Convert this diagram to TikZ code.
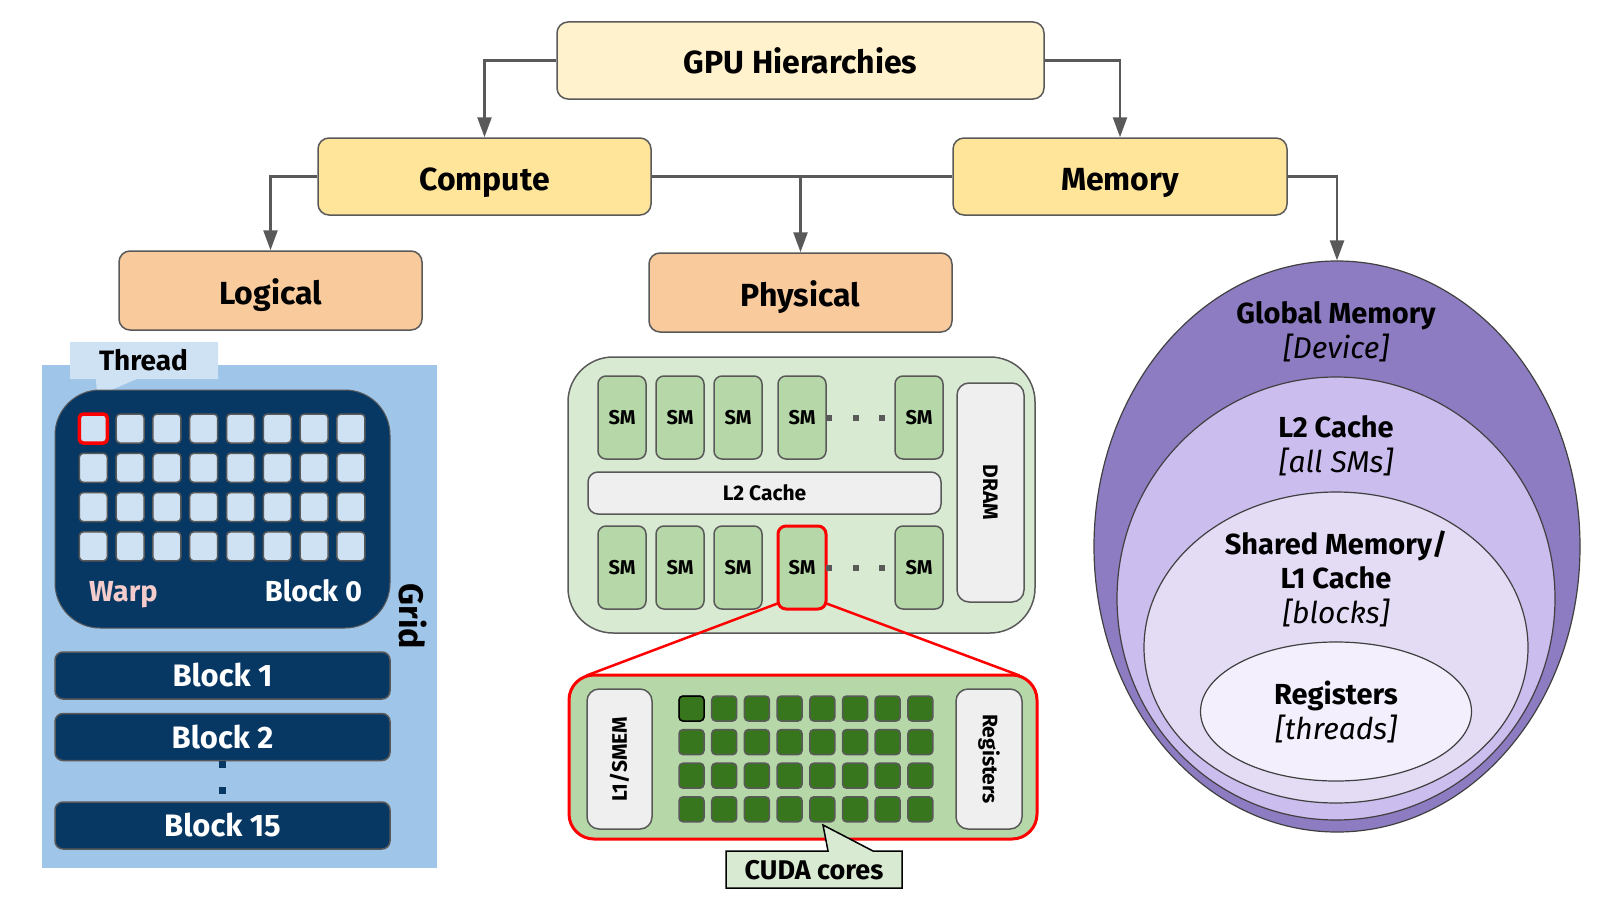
\documentclass[tikz,border=0pt]{standalone}
\usepackage{fontspec}
\setmainfont{Fira Sans}
\usetikzlibrary{arrows.meta,shapes.geometric,calc}
\definecolor{linegray}{HTML}{595959}
\definecolor{gpuyellow}{HTML}{FFF2CC}
\definecolor{compyellow}{HTML}{FFE599}
\definecolor{peach}{HTML}{F9CB9C}
\definecolor{gridblue}{HTML}{9FC5E8}
\definecolor{lightblue}{HTML}{CFE2F3}
\definecolor{navy}{HTML}{073763}
\definecolor{warppink}{HTML}{F4CCCC}
\definecolor{physgreen}{HTML}{D9EAD3}
\definecolor{smgreen}{HTML}{B6D7A8}
\definecolor{cachegray}{HTML}{EFEFEF}
\definecolor{coregreen}{HTML}{38761D}
\definecolor{memA}{HTML}{8E7CC3}
\definecolor{memB}{HTML}{CBBDEE}
\definecolor{memC}{HTML}{E4DCF5}
\definecolor{memD}{HTML}{F3EFFD}
\definecolor{ellline}{HTML}{404040}
\begin{document}
\begin{tikzpicture}[x=1pt,y=-1pt,
  treebox/.style={draw=linegray,line width=1.5pt,rounded corners=11pt,inner sep=0pt,
    text height=29pt,text depth=2pt,font=\fontsize{32}{38}\selectfont\bfseries},
  arr/.style={draw=linegray,line width=2.5pt,-{Triangle[length=20pt,width=14pt]}},
  plainline/.style={draw=linegray,line width=2.5pt},
  thr/.style={draw=linegray,line width=1.5pt,fill=lightblue,rounded corners=4pt,minimum width=28pt,minimum height=29pt,inner sep=0pt},
  blk/.style={draw=linegray,line width=1.5pt,fill=navy,rounded corners=8pt,minimum width=335pt,minimum height=47pt,inner sep=0pt,
    text=white,text height=25.5pt,text depth=3pt,font=\fontsize{31}{36}\selectfont\bfseries},
  sm/.style={draw=linegray,line width=1.5pt,fill=smgreen,rounded corners=8pt,minimum width=48pt,minimum height=83pt,inner sep=0pt,
    text height=14pt,text depth=0pt,font=\fontsize{20}{24}\selectfont\bfseries},
  graybox/.style={draw=linegray,line width=1.5pt,fill=cachegray,rounded corners=12pt,inner sep=0pt,
    font=\fontsize{21}{25}\selectfont\bfseries},
  core/.style={draw=linegray,line width=1.5pt,fill=coregreen,rounded corners=4pt,minimum size=25pt,inner sep=0pt},
  dot/.style={fill=linegray,minimum size=6pt,inner sep=0pt},
  ell/.style={ellipse,draw=ellline,line width=1.2pt,inner sep=0pt},
  memtxt/.style={font=\fontsize{29}{34}\selectfont\bfseries,inner sep=0pt,text height=20pt,text depth=0pt},
  memit/.style={font=\fontsize{30}{35}\selectfont\itshape,inner sep=0pt,text height=20pt,text depth=0pt}
]
\useasboundingbox (0,0) rectangle (1600,899);

% ---------- tree ----------
\node[treebox,fill=gpuyellow,minimum width=487pt,minimum height=77pt] (gpu) at (800.5,60.5) {GPU Hierarchies};
\node[treebox,fill=compyellow,minimum width=333pt,minimum height=77pt] (compute) at (484.5,176.5) {Compute};
\node[treebox,fill=compyellow,minimum width=334pt,minimum height=77pt] (memory) at (1120,176.5) {Memory};
\node[treebox,fill=peach,minimum width=303pt,minimum height=79pt] (logical) at (270.5,290.5) {Logical};
\node[treebox,fill=peach,minimum width=303pt,minimum height=79pt] (physical) at (800.5,292.5) {Physical};

% ---------- logical: grid ----------
\fill[gridblue] (42,365) rectangle (437,868);
\fill[lightblue] (70,342) -- (218,342) -- (218,379) -- (137,379) -- (97,396) -- (96,379) -- (70,379) -- cycle;
\node[font=\fontsize{28}{32}\selectfont\bfseries,inner sep=0pt,text height=19.3pt,text depth=0pt] (thread) at (143.5,361) {Thread};
\node[draw=linegray,line width=1pt,fill=navy,rounded corners=45pt,minimum width=335pt,minimum height=238pt,inner sep=0pt] (block0) at (222.5,509) {};
\foreach \i in {0,...,7}{
  \foreach \j in {0,...,3}{
    \node[thr] (t\i\j) at ({93.3+36.8*\i},{428.5+39.3*\j}) {};
  }
}
\node[thr,draw=red,line width=3.5pt] (redthread) at (t00) {};
\node[font=\fontsize{29}{34}\selectfont\bfseries,text=warppink,anchor=base,inner sep=0pt] (warp) at (123.5,601) {Warp};
\node[font=\fontsize{29}{34}\selectfont\bfseries,text=white,anchor=base,inner sep=0pt] (b0lbl) at (313.5,601) {Block 0};
\node[font=\fontsize{34}{40}\selectfont\bfseries,rotate=-90,inner sep=0pt] (gridlbl) at (412.5,616.5) {Grid};
\node[blk] (block1) at (222.5,675.5) {Block 1};
\node[blk] (block2) at (222.5,737) {Block 2};
\node[blk] (block15) at (222.5,825.5) {Block 15};
\node[fill=navy,minimum size=7pt,inner sep=0pt] (gd1) at (222.5,764) {};
\node[fill=navy,minimum size=7pt,inner sep=0pt] (gd2) at (222.5,790) {};

% ---------- physical ----------
\node[draw=linegray,line width=1.5pt,fill=physgreen,rounded corners=45pt,minimum width=467pt,minimum height=276pt,inner sep=0pt] (gpupanel) at (801.5,495) {};
\foreach \x [count=\k] in {622,680,738,802,919}{
  \node[sm] (smt\k) at (\x,417.5) {SM};
  \node[sm] (smb\k) at (\x,567.5) {SM};
}
\node[sm,draw=red,line width=3pt] (smr) at (smb4) {SM};
\foreach \x [count=\k] in {829,856,882}{
  \node[dot] (dt\k) at (\x,418) {};
  \node[dot] (db\k) at (\x,568) {};
}
\node[graybox,rounded corners=10pt,minimum width=353pt,minimum height=42pt,text height=14.5pt,text depth=0pt] (l2) at (764.5,493) {L2 Cache};
\node[graybox,minimum width=67pt,minimum height=219pt] (dram) at (990.5,492.5) {};
\node[font=\fontsize{21}{25}\selectfont\bfseries,rotate=-90,inner sep=0pt] (dramlbl) at (dram) {DRAM};

% ---------- SM zoom ----------
\node[draw=red,line width=3pt,fill=smgreen,rounded corners=25pt,minimum width=468pt,minimum height=164pt,inner sep=0pt] (smpanel) at (803,757) {};
\draw[red,line width=2.5pt] ($(smr.south west)+(1,-7)$) -- ($(smpanel.north west)+(19,2)$);
\draw[red,line width=2.5pt] ($(smr.south east)+(-1,-7)$) -- ($(smpanel.north east)+(-19,2)$);
\node[graybox,minimum width=65pt,minimum height=140pt] (l1) at (619.5,759) {};
\node[font=\fontsize{21}{25}\selectfont\bfseries,rotate=90,inner sep=0pt] (l1lbl) at (l1) {L1/SMEM};
\node[graybox,minimum width=66pt,minimum height=140pt] (regs) at (989,759) {};
\node[font=\fontsize{21}{25}\selectfont\bfseries,rotate=-90,inner sep=0pt] (regslbl) at (regs) {Registers};
\foreach \i in {0,...,7}{
  \foreach \j in {0,...,3}{
    \node[core] (c\i\j) at ({691.5+32.7*\i},{708.5+33.6*\j}) {};
  }
}
\node[core,draw=black] (c00b) at (c00) {};
\filldraw[fill=physgreen,draw=black,line width=1.5pt] (726,851) -- (828,851) -- (823,825) -- (873,851) -- (902,851) -- (902,888) -- (726,888) -- cycle;
\node[font=\fontsize{27}{32}\selectfont\bfseries,inner sep=0pt,text height=18.6pt,text depth=0pt] (cudalbl) at (814,870) {CUDA cores};

% ---------- memory ----------
\node[ell,fill=memA,minimum width=486pt,minimum height=571pt] (global) at (1337,546.5) {};
\node[ell,fill=memB,minimum width=438pt,minimum height=443pt] (l2m) at (1336,598.5) {};
\node[ell,fill=memC,minimum width=384pt,minimum height=311pt] (shared) at (1336,647.5) {};
\node[ell,fill=memD,minimum width=271pt,minimum height=139pt] (regm) at (1336,711.5) {};
\node[memtxt] (t1) at (1336,313) {Global Memory};
\node[memit] (t2) at (1336,348) {[Device]};
\node[memtxt] (t3) at (1336,427.5) {L2 Cache};
\node[memit] (t4) at (1336,462) {[all SMs]};
\node[memtxt] (t5) at (1336,544) {Shared Memory/};
\node[memtxt] (t6) at (1336,578.5) {L1 Cache};
\node[memit] (t7) at (1336,613) {[blocks]};
\node[memtxt] (t8) at (1336,694) {Registers};
\node[memit] (t9) at (1336,729) {[threads]};

% ---------- connectors ----------
\draw[arr] (gpu.west) -| (compute.north);
\draw[arr] (gpu.east) -| (memory.north);
\draw[arr] (compute.west) -| (logical.north);
\draw[plainline] (compute.east) -- (memory.west);
\draw[arr] (compute.east -| physical.north) -- (physical.north);
\draw[arr] (memory.east) -| (global.north);
\end{tikzpicture}
\end{document}
